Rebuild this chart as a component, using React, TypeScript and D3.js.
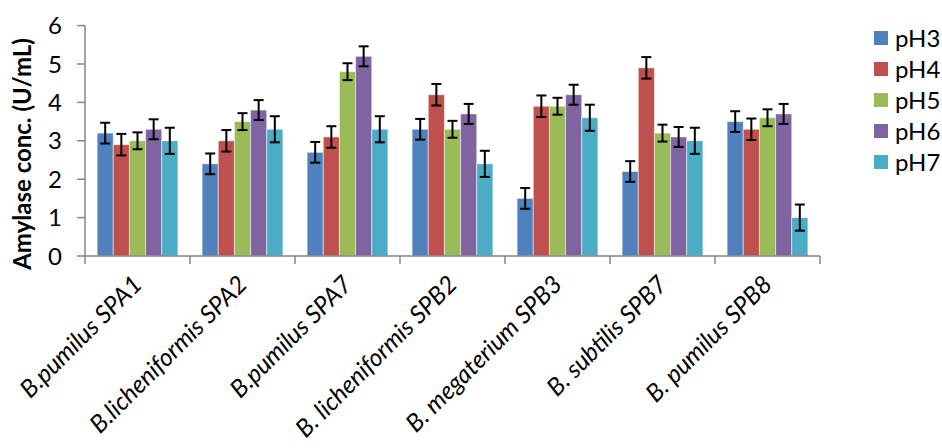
import React from "react";
import * as d3 from "d3";

// strains on the x axis
const strains = [
  "B.pumilus SPA1",
  "B.licheniformis SPA2",
  "B.pumilus SPA7",
  "B. licheniformis SPB2",
  "B. megaterium SPB3",
  "B. subtilis SPB7",
  "B. pumilus SPB8",
];

const seriesNames = ["pH3", "pH4", "pH5", "pH6", "pH7"];

// amylase conc. per strain, one array per pH
const pH3 = [3.2, 2.4, 2.7, 3.3, 1.5, 2.2, 3.5];
const pH4 = [2.9, 3.0, 3.1, 4.2, 3.9, 4.9, 3.3];
const pH5 = [3.0, 3.5, 4.8, 3.3, 3.9, 3.2, 3.6];
const pH6 = [3.3, 3.8, 5.2, 3.7, 4.2, 3.1, 3.7];
const pH7 = [3.0, 3.3, 3.3, 2.4, 3.6, 3.0, 1.0];

// error bar half-widths per series
const errors = [0.27, 0.28, 0.22, 0.26, 0.34];

const yTicks = [0, 1, 2, 3, 4, 5, 6];

const colors = ["#4F81BD", "#C0504D", "#9BBB59", "#8064A2", "#4BACC6"];

const W = 942;
const H = 448;
const plot = { left: 85, right: 820, top: 25.6, bottom: 256 };
const font = "Lato, 'Open Sans', sans-serif";
const axisColor = "#868686";

export default function App() {
  const values = [pH3, pH4, pH5, pH6, pH7];

  const x0 = d3.scaleBand().domain(strains).range([plot.left, plot.right]).paddingInner(0.2308).paddingOuter(0.1154);
  const x1 = d3.scaleBand().domain(seriesNames).range([0, x0.bandwidth()]);
  const y = d3.scaleLinear().domain([0, 6]).range([plot.bottom, plot.top]);

  const step = x0.step();
  const boundaries = d3.range(strains.length + 1).map(i => plot.left + i * step);

  return (
    <svg width={W} height={H} style={{ position: "absolute", left: 0, top: 0, background: "#fff" }} fontFamily={font}>
      {/* bars */}
      {strains.map((s, i) => (
        <g key={s} transform={`translate(${x0(s)},0)`}>
          {seriesNames.map((n, j) => {
            const v = values[j][i];
            const bx = x1(n)!;
            const cx = bx + x1.bandwidth() / 2;
            const e = errors[j];
            return (
              <g key={n}>
                <rect
                  x={bx}
                  y={y(v)}
                  width={x1.bandwidth()}
                  height={y(0) - y(v)}
                  fill={colors[j]}
                  stroke="rgba(255,255,255,0.5)"
                  strokeWidth={1}
                />
                <line x1={cx} x2={cx} y1={y(v + e)} y2={y(v - e)} stroke="#000" strokeWidth={2} />
                <line x1={cx - 5} x2={cx + 5} y1={y(v + e)} y2={y(v + e)} stroke="#000" strokeWidth={2} />
                <line x1={cx - 5} x2={cx + 5} y1={y(v - e)} y2={y(v - e)} stroke="#000" strokeWidth={2} />
              </g>
            );
          })}
        </g>
      ))}

      {/* y axis */}
      <line x1={plot.left} x2={plot.left} y1={y(6)} y2={y(0)} stroke={axisColor} strokeWidth={1.5} />
      {yTicks.map(t => (
        <g key={t}>
          <line x1={plot.left - 8} x2={plot.left} y1={y(t)} y2={y(t)} stroke={axisColor} strokeWidth={1.5} />
          <text x={plot.left - 23} y={y(t)} dy="0.36em" textAnchor="end" fontSize={24} fill="#000">
            {t}
          </text>
        </g>
      ))}
      <text
        transform={`translate(31, 154) rotate(-90)`}
        textAnchor="middle"
        fontSize={24}
        fontWeight="bold"
        fill="#000"
      >
        Amylase conc. (U/mL)
      </text>

      {/* x axis */}
      <line x1={plot.left} x2={plot.right} y1={y(0)} y2={y(0)} stroke={axisColor} strokeWidth={1.5} />
      {boundaries.map((b, i) => (
        <line key={i} x1={b} x2={b} y1={y(0)} y2={y(0) + 8} stroke={axisColor} strokeWidth={1.5} />
      ))}
      {strains.map(s => {
        const cx = x0(s)! + x0.bandwidth() / 2;
        return (
          <text
            key={s}
            transform={`translate(${cx + 6}, ${y(0) + 30}) rotate(-45)`}
            textAnchor="end"
            fontSize={24.5}
            fontStyle="italic"
            fill="#000"
          >
            {s}
          </text>
        );
      })}

      {/* legend */}
      {seriesNames.map((n, j) => (
        <g key={n} transform={`translate(874, ${38 + j * 31})`}>
          <rect x={0} y={-7} width={14} height={14} fill={colors[j]} />
          <text x={21} y={0} dy="0.36em" fontSize={24} fill="#000">
            {n}
          </text>
        </g>
      ))}
    </svg>
  );
}
